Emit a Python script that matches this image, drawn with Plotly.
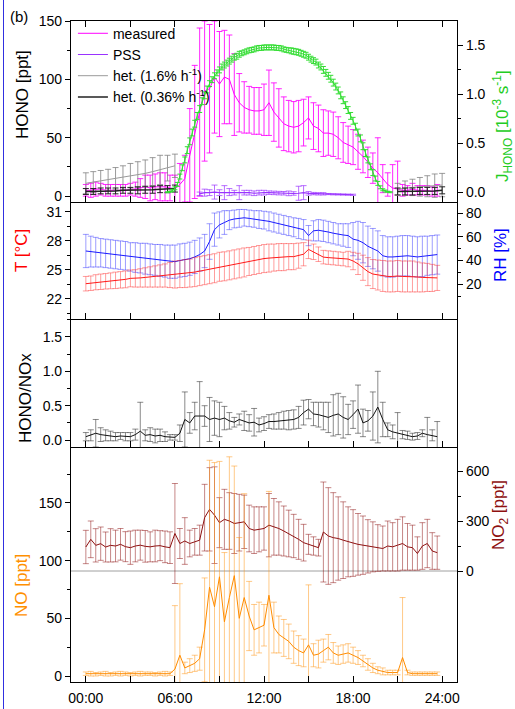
import plotly.graph_objects as go

# ---------------- diurnal means, 20-min bins (00:00 ... 23:40) ----------------
HONO_MEAS = [5, 5, 6, 6, 5, 5, 5, 5, 5, 6, 6, 7,
             8, 7, 8, 8, 8, 7, 6, 10, 15, 35, 55, 72,
             90, 92, 102, 96, 102, 100, 87, 80, 76, 74, 73, 73,
             74, 80, 72, 67, 62, 60, 59, 60, 63, 67, 60, 58,
             54, 54, 53, 50, 46, 44, 42, 38, 34, 29, 24, 20,
             15, 10, 7, 6, 5, 5, 6, 5, 5, 5, 4, 5]
HONO_MEAS_ERR = [5, 6, 6, 5, 5, 5, 5, 5, 5, 5, 6, 8,
                 10, 11, 11, 12, 12, 11, 12, 18, 20, 40, 57, 72,
                 60, 55, 48, 45, 40, 38, 35, 25, 22, 20, 20, 20,
                 22, 28, 25, 25, 23, 22, 22, 22, 20, 18, 20, 20,
                 20, 19, 19, 18, 17, 16, 15, 15, 14, 13, 13, 30,
                 12, 10, 20, 24, 5, 4, 5, 4, 4, 4, 4, 5]

T_MEAN = [23.55, 23.6, 23.7, 23.75, 23.8, 23.85, 23.9, 23.95, 24.0, 24.1, 24.1, 24.15,
          24.2, 24.25, 24.3, 24.35, 24.4, 24.45, 24.5, 24.55, 24.6, 24.65, 24.75, 24.85,
          24.95, 25.05, 25.15, 25.3, 25.35, 25.45, 25.55, 25.65, 25.75, 25.85, 25.95, 26.05,
          26.15, 26.2, 26.25, 26.3, 26.3, 26.35, 26.35, 26.45, 26.6, 27.1, 26.85, 26.6,
          26.3, 26.25, 26.2, 26.15, 26.1, 26.1, 25.9, 25.6, 25.2, 24.8, 24.55, 24.45,
          24.35, 24.3, 24.3, 24.35, 24.3, 24.3, 24.3, 24.25, 24.2, 24.2, 24.15, 24.15]
T_ERR = [0.75, 0.75, 0.78, 0.8, 0.8, 0.82, 0.85, 0.85, 0.87, 0.87, 0.9, 0.95,
         1.0, 1.05, 1.1, 1.15, 1.2, 1.3, 1.4, 1.4, 1.45, 1.45, 1.5, 1.5,
         1.5, 1.5, 1.5, 1.5, 1.5, 1.5, 1.5, 1.5, 1.5, 1.45, 1.45, 1.45,
         1.45, 1.45, 1.4, 1.4, 1.4, 1.35, 1.35, 1.3, 1.2, 0.95, 0.8, 0.75,
         0.7, 0.7, 0.7, 0.7, 0.7, 0.8, 0.9, 1.1, 1.3, 1.45, 1.5, 1.55,
         1.6, 1.6, 1.6, 1.6, 1.6, 1.6, 1.6, 1.55, 1.5, 1.45, 1.4, 1.3]

RH_MEAN = [48, 47.5, 47, 46.5, 46, 45.5, 45, 44.5, 44, 43, 42.5, 42,
           41.5, 41, 40.5, 40, 39.5, 39, 39, 40, 40.5, 41.5, 43, 45,
           48, 56, 66, 70, 72, 74, 75, 75.5, 76, 75.5, 75, 74.5,
           74, 73, 72, 71, 70, 69, 68, 67, 66, 61, 65, 65.5,
           65, 64, 63, 62, 61.5, 61, 58, 57, 55, 52, 50, 48,
           44, 43, 43, 43.5, 44, 44, 43.5, 43, 43.5, 44, 44.5, 45]
RH_ERR = [14, 13, 12.5, 12, 12, 12, 12, 12, 12, 12, 12.5, 12.5,
          13, 13, 13, 13.5, 13.5, 14, 14, 14, 14, 14, 14, 14,
          14, 15, 14, 11, 10, 8, 7.5, 7.5, 7, 7, 7, 7.5,
          7.5, 8, 8, 8, 8, 8, 8, 8.5, 8.5, 8.5, 8.5, 9,
          9, 9, 9, 9, 9.5, 10, 14, 16, 17, 17, 17, 17,
          17, 17, 17, 17, 17, 17, 17, 17, 17, 16.5, 16.5, 16.5]

HONO_NOX = [0.05, 0.07, 0.1, 0.08, 0.07, 0.06, 0.05, 0.06, 0.05, 0.05, 0.08, 0.13,
            0.07, 0.08, 0.06, 0.07, 0.05, 0.04, 0.04, 0.1, 0.3, 0.25, 0.35, 0.35,
            0.35, 0.3, 0.32, 0.3, 0.32, 0.28, 0.26, 0.3, 0.28, 0.25, 0.26, 0.22,
            0.24, 0.27, 0.27, 0.28, 0.29, 0.29, 0.3, 0.33, 0.4, 0.45, 0.38, 0.37,
            0.35, 0.33, 0.36, 0.38, 0.33, 0.3, 0.37, 0.45, 0.25, 0.28, 0.35, 0.48,
            0.3, 0.15, 0.12, 0.1, 0.08, 0.07, 0.05, 0.06, 0.1, 0.08, 0.07, 0.05]
HONO_NOX_ERR = [0.06, 0.08, 0.2, 0.1, 0.08, 0.07, 0.06, 0.05, 0.06, 0.06, 0.08, 0.42,
                0.08, 0.1, 0.1, 0.09, 0.07, 0.04, 0.04, 0.12, 0.4, 0.15, 0.2, 0.5,
                0.15, 0.32, 0.25, 0.25, 0.17, 0.12, 0.07, 0.08, 0.14, 0.12, 0.2, 0.1,
                0.1, 0.1, 0.11, 0.12, 0.13, 0.14, 0.14, 0.16, 0.18, 0.14, 0.17, 0.18,
                0.2, 0.22, 0.3, 0.3, 0.3, 0.22, 0.2, 0.35, 0.2, 0.15, 0.35, 0.52,
                0.25, 0.1, 0.1, 0.3, 0.06, 0.06, 0.05, 0.05, 0.05, 0.25, 0.08, 0.22]

NO_MEAN = [2, 2, 1.5, 2, 2, 1.5, 2, 2, 2, 1.5, 2, 2,
           2, 2, 1.5, 2, 2, 2, 6, 18, 7, 9, 11, 15,
           40, 77, 60, 86, 47, 68, 87, 50, 68, 52, 40, 42,
           44, 70, 42, 36, 33, 30, 25, 22, 20, 27, 18, 19,
           22, 25, 20, 18, 19, 20, 18, 16, 13, 10, 7, 5,
           4, 3, 3, 3, 16, 3, 2, 2, 2, 2, 2, 2]
NO_ERR = [1.5, 2, 1.5, 1.5, 2, 1.5, 1.5, 2, 1.5, 1.5, 1.5, 2,
          1.5, 1.5, 1.5, 1.5, 2, 1.5, 55, 62, 5, 6, 7, 10,
          45, 110, 125, 100, 60, 122, 95, 70, 90, 30, 22, 22,
          18, 90, 22, 16, 16, 15, 14, 13, 12, 52, 10, 12,
          10, 11, 9, 8, 8, 8, 7, 6, 5, 5, 4, 3,
          3, 2, 2, 2, 52, 2, 1.5, 1.5, 1.5, 1.5, 1.5, 1.5]

NO2_MEAN = [144, 190, 154, 164, 144, 154, 150, 160, 146, 140, 150, 155,
            148, 145, 150, 152, 145, 140, 225, 165, 180, 165, 175, 185,
            320, 370, 335, 290, 310, 300, 285, 290, 295, 255, 245, 250,
            255, 275, 265, 255, 240, 225, 210, 190, 170, 160, 150, 140,
            234, 210, 200, 195, 185, 175, 168, 160, 155, 148, 145, 138,
            135, 150, 145, 155, 165, 145, 140, 105, 150, 165, 120, 110]
NO2_ERR = [100, 110, 100, 100, 90, 100, 95, 95, 90, 100, 95, 90,
           95, 90, 95, 90, 95, 95, 300, 90, 140, 80, 80, 90,
           200, 250, 290, 150, 180, 170, 180, 170, 160, 140, 140, 135,
           130, 190, 170, 160, 150, 140, 130, 120, 110, 60, 55, 50,
           300, 290, 270, 250, 230, 210, 200, 185, 175, 160, 150, 140,
           135, 150, 145, 155, 160, 140, 135, 100, 140, 145, 110, 100]

HOURS = [i / 3 for i in range(len(HONO_MEAS))]

# ---------------- PSS HONO, 20-min bins from 07:40 to 18:00 ----------------
PSS_START = 23 / 3
PSS = [2.0, 3.0, 3.0, 3.5, 3.0, 3.0, 3.5, 3.0, 3.0, 3.0,
       3.0, 2.5, 3.0, 3.0, 3.0, 2.8, 2.6, 2.5, 2.4, 2.3,
       2.5, 3.0, 2.4, 2.2, 2.0, 2.0, 1.8, 1.6, 1.5, 1.4,
       1.3, 1.2]
PSS_ERR = [1.5, 3, 2.5, 6, 2.5, 6, 3, 2, 6, 2,
           2, 2, 2, 2, 1.5, 1.5, 1.5, 1.5, 2, 1.5,
           6, 6, 1.5, 1, 1, 1, 0.5, 0.5, 0.5, 0.5,
           0.5, 0.5]
PSS_HOURS = [PSS_START + i / 3 for i in range(len(PSS))]

# ---------------- heterogeneous night-time formation (30-min) ----------------
HET_HOURS = [0, 0.5, 1, 1.5, 2, 2.5, 3, 3.5, 4, 4.5, 5, 5.5, 6, None,
             21, 21.5, 22, 22.5, 23, 23.5, 24]
HET_16 = [11, 12, 13, 14, 15, 16, 17, 18.5, 19.5, 21, 22.5, 24, 26, None,
          6, 7, 7.5, 8, 8.5, 9, 9.5]
HET_16_ERR = [9, 9, 9, 9, 9.5, 10, 11, 11, 11.5, 12, 12.5, 11, 10, 0,
              5, 6, 7, 8, 9, 10, 10]
HET_036 = [4, 4, 4.5, 4.5, 4.5, 5, 5, 5, 5.5, 5.5, 6, 6, 6.5, None,
           4, 4, 4, 4.5, 4.5, 4.5, 5]
HET_036_ERR = [2.5, 2.5, 2.5, 2.5, 2.5, 2.5, 2.5, 3, 3, 3, 3, 3, 3, 0,
               3, 3, 3, 3, 3, 3, 3]

# ---------------- J(HONO), 10-min bins from 05:30 to 20:30 ----------------
J_START = 5.5
J_HONO = [0.00, 0.005, 0.02, 0.04, 0.08, 0.16,
          0.25, 0.33, 0.43, 0.52, 0.61, 0.70,
          0.78, 0.85, 0.93, 0.99, 1.05, 1.11,
          1.15, 1.19, 1.22, 1.25, 1.28, 1.30,
          1.32, 1.34, 1.36, 1.38, 1.39, 1.41,
          1.42, 1.43, 1.44, 1.45, 1.455, 1.46,
          1.47, 1.475, 1.475, 1.48, 1.48, 1.48,
          1.48, 1.48, 1.475, 1.475, 1.47, 1.46,
          1.455, 1.45, 1.445, 1.44, 1.435, 1.43,
          1.42, 1.41, 1.40, 1.38, 1.36, 1.345,
          1.33, 1.30, 1.28, 1.25, 1.22, 1.19,
          1.16, 1.12, 1.08, 1.04, 0.99, 0.94,
          0.89, 0.84, 0.78, 0.73, 0.67, 0.61,
          0.55, 0.47, 0.40, 0.33, 0.26, 0.20,
          0.14, 0.09, 0.05, 0.025, 0.012, 0.005,
          0.0]
J_HONO_ERR = [0.005, 0.005, 0.01, 0.015, 0.02, 0.025,
              0.03, 0.03, 0.035, 0.035, 0.035, 0.035,
              0.035, 0.035, 0.035, 0.035, 0.035, 0.03,
              0.03, 0.03, 0.03, 0.03, 0.03, 0.03,
              0.03, 0.03, 0.03, 0.03, 0.03, 0.03,
              0.025, 0.025, 0.025, 0.025, 0.025, 0.025,
              0.025, 0.025, 0.025, 0.025, 0.025, 0.025,
              0.025, 0.025, 0.025, 0.025, 0.025, 0.025,
              0.025, 0.025, 0.03, 0.03, 0.03, 0.03,
              0.03, 0.03, 0.03, 0.03, 0.03, 0.03,
              0.03, 0.03, 0.03, 0.035, 0.035, 0.035,
              0.035, 0.035, 0.035, 0.035, 0.035, 0.035,
              0.035, 0.035, 0.035, 0.035, 0.035, 0.035,
              0.035, 0.035, 0.035, 0.03, 0.03, 0.03,
              0.025, 0.02, 0.015, 0.01, 0.01, 0.005,
              0.005]
J_HOURS = [J_START + i / 6 for i in range(len(J_HONO))]

TIME_TICKS = [0, 6, 12, 18, 24]
TIME_LABELS = ["00:00", "06:00", "12:00", "18:00", "24:00"]

FONT = "Arial, Liberation Sans, sans-serif"

MAGENTA = "#FF00FF"
VIOLET = "#9A33FF"
GREEN = "#33DD33"
RED = "#FF1A1A"
BLUE = "#1A1AFF"
ORANGE = "#FF8C00"
DARKRED = "#8E1010"


def err(values, color, width=3, thickness=1):
    return dict(type="data", array=values, visible=True, color=color,
                thickness=thickness, width=width)


fig = go.Figure()

# ---- panel 1: HONO measured / PSS / heterogeneous + J(HONO) ----
fig.add_trace(go.Scatter(x=HOURS, y=HONO_MEAS, mode="lines", name="measured",
                         line=dict(color=MAGENTA, width=1),
                         error_y=err(HONO_MEAS_ERR, "rgba(255,0,255,0.85)"),
                         xaxis="x", yaxis="y"))
fig.add_trace(go.Scatter(x=PSS_HOURS, y=PSS, mode="lines", name="PSS",
                         line=dict(color=VIOLET, width=1.2),
                         error_y=err(PSS_ERR, "rgba(154,51,255,0.7)"),
                         xaxis="x", yaxis="y"))
fig.add_trace(go.Scatter(x=HET_HOURS, y=HET_16, mode="lines",
                         name="het. (1.6% h<sup>-1</sup>)",
                         line=dict(color="#9A9A9A", width=1),
                         error_y=err(HET_16_ERR, "rgba(130,130,130,0.8)"),
                         xaxis="x", yaxis="y"))
fig.add_trace(go.Scatter(x=HET_HOURS, y=HET_036, mode="lines",
                         name="het. (0.36% h<sup>-1</sup>)",
                         line=dict(color="#222222", width=1.5),
                         error_y=err(HET_036_ERR, "#222222"),
                         xaxis="x", yaxis="y"))
fig.add_trace(go.Scatter(x=J_HOURS, y=J_HONO, mode="lines", showlegend=False,
                         line=dict(color=GREEN, width=1),
                         error_y=err(J_HONO_ERR, GREEN, width=2.5),
                         xaxis="x", yaxis="y2"))

# ---- panel 2: RH (right) and T (left) ----
fig.add_trace(go.Scatter(x=HOURS, y=RH_MEAN, mode="lines", showlegend=False,
                         line=dict(color=BLUE, width=1),
                         error_y=err(RH_ERR, "rgba(40,40,255,0.45)"),
                         xaxis="x2", yaxis="y3"))
fig.add_trace(go.Scatter(x=HOURS, y=T_MEAN, mode="lines", showlegend=False,
                         line=dict(color=RED, width=1),
                         error_y=err(T_ERR, "rgba(255,40,40,0.45)"),
                         xaxis="x2", yaxis="y4"))

# ---- panel 3: HONO/NOx ----
fig.add_trace(go.Scatter(x=HOURS, y=HONO_NOX, mode="lines", showlegend=False,
                         line=dict(color="#111111", width=1),
                         error_y=err(HONO_NOX_ERR, "rgba(60,60,60,0.6)"),
                         xaxis="x3", yaxis="y5"))

# ---- panel 4: NO2 (right) and NO (left) ----
fig.add_trace(go.Scatter(x=HOURS, y=NO2_MEAN, mode="lines", showlegend=False,
                         line=dict(color=DARKRED, width=1),
                         error_y=err(NO2_ERR, "rgba(142,16,16,0.5)"),
                         xaxis="x4", yaxis="y6"))
fig.add_trace(go.Scatter(x=HOURS, y=NO_MEAN, mode="lines", showlegend=False,
                         line=dict(color=ORANGE, width=1),
                         error_y=err(NO_ERR, "rgba(255,150,20,0.5)"),
                         xaxis="x4", yaxis="y7"))

# ---------------- layout ----------------
L, R, T, B = 71, 58, 21, 27
W, H = 515, 709
PH = H - T - B
PW = W - L - R


def py(pixel_y):
    return (H - B - pixel_y) / PH


def px(pixel_x):
    return (pixel_x - L) / PW


D1 = [py(202), 1.0]
D2 = [py(319), py(202)]
D3 = [py(447), py(319)]
D4 = [0.0, py(447)]

axis_common = dict(showline=True, linecolor="black", linewidth=1.2,
                   showgrid=False, zeroline=False, automargin=False,
                   tickfont=dict(family=FONT, size=14, color="black"),
                   tickcolor="black", tickwidth=1.2)

x_common = dict(axis_common, range=[-1, 25], domain=[0, 1],
                tickmode="array", tickvals=TIME_TICKS, ticktext=TIME_LABELS,
                ticks="inside", ticklen=6,
                minor=dict(tickmode="array", tickvals=[3, 9, 15, 21],
                           ticks="inside", ticklen=6, tickcolor="black", tickwidth=1.2))

y_left = dict(axis_common, ticks="outside", ticklen=5, side="left")
y_right = dict(axis_common, ticks="outside", ticklen=5, side="right")

fig.update_layout(
    width=W, height=H, autosize=False,
    margin=dict(l=L, r=R, t=T, b=B, pad=0),
    paper_bgcolor="white", plot_bgcolor="white",
    font=dict(family=FONT, size=14, color="black"),
    showlegend=True,
    legend=dict(x=0.005, y=1.005, xanchor="left", yanchor="top",
                bgcolor="rgba(0,0,0,0)", borderwidth=0,
                font=dict(family=FONT, size=14, color="black"),
                tracegroupgap=0, itemwidth=30),
    xaxis=dict(x_common, anchor="y", showticklabels=False, mirror="ticks"),
    xaxis2=dict(x_common, anchor="y3", showticklabels=False),
    xaxis3=dict(x_common, anchor="y5", showticklabels=False),
    xaxis4=dict(x_common, anchor="y6", showticklabels=True, ticklabelstandoff=3),
    yaxis=dict(y_left, domain=D1, anchor="x", range=[-5, 150],
               tickmode="array", tickvals=[0, 50, 100, 150],
               minor=dict(tickmode="array", tickvals=[25, 75, 125], ticks="outside",
                          ticklen=3, tickcolor="black")),
    yaxis2=dict(y_right, overlaying="y", anchor="x", range=[-0.1, 1.75],
                tickmode="array", tickvals=[0, 0.5, 1.0, 1.5], tickformat=".1f",
                minor=dict(tickmode="array", tickvals=[0.25, 0.75, 1.25], ticks="outside",
                           ticklen=3, tickcolor="black")),
    yaxis3=dict(y_right, domain=D2, anchor="x2", range=[-9.3, 89.3],
                tickmode="array", tickvals=[20, 40, 60, 80],
                minor=dict(tickmode="array", tickvals=[10, 30, 50, 70], ticks="outside",
                           ticklen=3, tickcolor="black")),
    yaxis4=dict(y_left, overlaying="y3", anchor="x2", range=[19.9, 32.0],
                tickmode="array", tickvals=[22, 25, 28, 31],
                minor=dict(tickmode="array", tickvals=[20.5, 23.5, 26.5, 29.5],
                           ticks="outside", ticklen=3, tickcolor="black")),
    yaxis5=dict(y_left, domain=D3, anchor="x3", range=[-0.1, 1.76], mirror=True,
                tickmode="array", tickvals=[0, 0.5, 1.0, 1.5], tickformat=".1f",
                minor=dict(tickmode="array", tickvals=[0.25, 0.75, 1.25, 1.75],
                           ticks="outside", ticklen=3, tickcolor="black")),
    yaxis6=dict(y_right, domain=D4, anchor="x4", range=[-666, 744],
                tickmode="array", tickvals=[0, 300, 600],
                minor=dict(tickmode="array", tickvals=[150, 450], ticks="outside",
                           ticklen=3, tickcolor="black")),
    yaxis7=dict(y_left, overlaying="y6", anchor="x4", range=[-5.2, 198.5],
                tickmode="array", tickvals=[0, 50, 100, 150],
                minor=dict(tickmode="array", tickvals=[25, 75, 125, 175], ticks="outside",
                           ticklen=3, tickcolor="black")),
)

# zero reference of NO2
fig.add_shape(type="line", xref="paper", x0=0, x1=1, yref="y6", y0=0, y1=0,
              line=dict(color="#A0A0A0", width=1), layer="below")

# blue frame edge on the left
fig.add_shape(type="line", xref="paper", x0=px(3.5), x1=px(3.5),
              yref="paper", y0=py(H), y1=py(0),
              line=dict(color="#3030E0", width=1))


def ytitle(text, x_pix, y_pix, color):
    fig.add_annotation(text=text, xref="paper", yref="paper",
                       x=px(x_pix), y=py(y_pix), xanchor="center", yanchor="middle",
                       textangle=-90, showarrow=False,
                       font=dict(family=FONT, size=17, color=color))


ytitle("HONO [ppt]", 23, 95, "black")
ytitle("J<sub>HONO</sub> [10<sup>-3</sup> s<sup>-1</sup>]", 502, 126, "#22CC22")
ytitle("T [°C]", 22, 251, "#FF0000")
ytitle("RH [%]", 500, 255, "#0000FF")
ytitle("HONO/NOx", 25, 398, "black")
ytitle("NO [ppt]", 21, 586, "#FF9000")
ytitle("NO<sub>2</sub> [ppt]", 500, 515, "#8E1010")

fig.add_annotation(text="(b)", xref="paper", yref="paper", x=px(8), y=py(17),
                   xanchor="left", yanchor="middle", showarrow=False,
                   font=dict(family=FONT, size=15, color="black"))

fig.write_html("out.html")
